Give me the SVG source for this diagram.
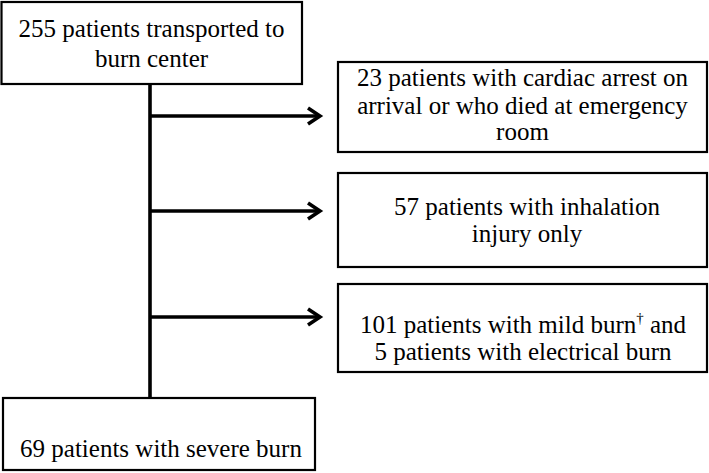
<svg xmlns="http://www.w3.org/2000/svg" width="709" height="473" viewBox="0 0 709 473">
<style>
.box{fill:#fff;stroke:#000;stroke-width:2.2}
.c{fill:none;stroke:#000;stroke-width:3.6}
.t{font-family:"Liberation Serif","Times New Roman",serif;font-size:25px;fill:#000;text-anchor:middle}
.sup{font-size:15px}
</style>
<defs>
<marker id="ah" markerUnits="userSpaceOnUse" markerWidth="20" markerHeight="20" refX="16" refY="10" orient="auto">
<path d="M4,2 L16,10 L4,18" fill="none" stroke="#000" stroke-width="3.6" stroke-linejoin="miter"/>
</marker>
</defs>
<rect width="709" height="473" fill="#fff"/>
<g id="connectors">
<path class="c" d="M150,84 V398"/>
<path class="c" d="M150,116 H320" marker-end="url(#ah)"/>
<path class="c" d="M150,211 H320" marker-end="url(#ah)"/>
<path class="c" d="M150,317 H320" marker-end="url(#ah)"/>
</g>
<g id="start">
<rect class="box" x="1.5" y="2" width="300.5" height="82"/>
<text class="t" x="151.5" y="37">255 patients transported to</text>
<text class="t" x="151.5" y="67">burn center</text>
</g>
<g id="excl1">
<rect class="box" x="338" y="62" width="369" height="90"/>
<text class="t" x="522.5" y="86">23 patients with cardiac arrest on</text>
<text class="t" x="522.5" y="114">arrival or who died at emergency</text>
<text class="t" x="522.5" y="140">room</text>
</g>
<g id="excl2">
<rect class="box" x="338" y="173" width="369" height="94"/>
<text class="t" x="527" y="215">57 patients with inhalation</text>
<text class="t" x="527" y="242">injury only</text>
</g>
<g id="excl3">
<rect class="box" x="338" y="284" width="369" height="88"/>
<text class="t" x="523" y="333">101 patients with mild burn<tspan class="sup" dy="-10">†</tspan><tspan dy="10"> and</tspan></text>
<text class="t" x="523" y="360">5 patients with electrical burn</text>
</g>
<g id="final">
<rect class="box" x="3" y="398" width="312" height="72"/>
<text class="t" x="161" y="457">69 patients with severe burn</text>
</g>
</svg>
